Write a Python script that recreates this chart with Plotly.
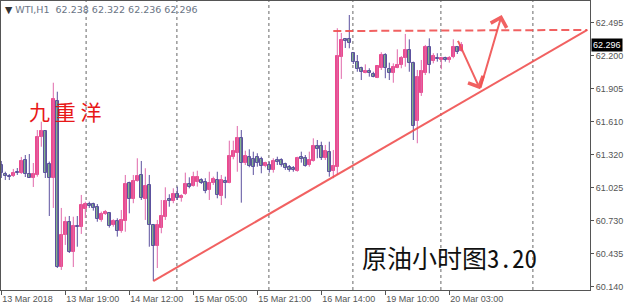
import plotly.graph_objects as go

# ---------------- data (WTI, H1) ----------------
opens = [61.225, 61.142, 61.130, 61.130, 61.165, 61.157, 61.270, 61.142, 61.112, 61.136,
         61.472, 61.528, 61.231, 61.109, 61.799, 60.318, 60.601, 60.719, 60.452, 60.684,
         60.675, 60.830, 60.875, 60.875, 60.851, 60.735, 60.788, 60.794, 60.690, 60.728,
         60.639, 60.728, 61.062, 60.922, 61.082, 61.136, 60.922, 61.047, 60.690, 60.505,
         60.661, 60.764, 60.922, 60.907, 60.964, 60.934, 60.964, 61.056, 61.038, 61.076,
         61.091, 61.076, 61.002, 61.067, 61.091, 60.949, 61.085, 61.067, 61.299, 61.335,
         61.463, 61.246, 61.294, 61.279, 61.294, 61.279, 61.219, 61.225, 61.181, 61.270,
         61.270, 61.234, 61.210, 61.196, 61.174, 61.299, 61.285, 61.225, 61.264, 61.395,
         61.395, 61.285, 61.344, 61.174, 61.210, 62.189, 62.346, 62.349, 62.222, 62.141,
         62.088, 62.049, 62.066, 62.037, 62.004, 62.088, 62.206, 62.079, 62.049, 62.093,
         62.117, 62.177, 62.251, 62.138, 61.620, 61.865, 62.049, 62.275, 62.156, 62.182,
         62.162, 62.177, 62.162, 62.186, 62.275, 62.238]
highs = [61.261, 61.165, 61.145, 61.190, 61.198, 61.297, 61.314, 61.323, 61.243, 61.537,
         61.611, 61.537, 61.255, 61.959, 61.879, 60.842, 60.764, 60.770, 60.764, 60.770,
         60.958, 60.898, 60.898, 60.889, 60.877, 60.809, 60.824, 60.800, 60.741, 60.750,
         60.824, 61.136, 61.076, 61.136, 61.285, 61.261, 61.196, 61.136, 60.699, 60.735,
         60.913, 61.026, 60.964, 61.017, 61.032, 60.964, 61.157, 61.115, 61.165, 61.174,
         61.107, 61.107, 61.165, 61.121, 61.165, 61.136, 61.121, 61.442, 61.442, 61.573,
         61.537, 61.353, 61.365, 61.344, 61.330, 61.299, 61.255, 61.255, 61.285, 61.299,
         61.285, 61.246, 61.225, 61.216, 61.299, 61.344, 61.314, 61.344, 61.463, 61.448,
         61.433, 61.404, 61.433, 61.359, 62.445, 62.403, 62.349, 62.563, 62.230, 62.206,
         62.102, 62.123, 62.088, 62.057, 62.110, 62.231, 62.222, 62.138, 62.132, 62.257,
         62.197, 62.394, 62.346, 62.147, 62.073, 62.162, 62.296, 62.355, 62.222, 62.222,
         62.191, 62.191, 62.197, 62.346, 62.287, 62.322]
lows = [61.109, 61.091, 61.091, 61.118, 61.136, 61.145, 61.118, 61.109, 61.029, 61.121,
        61.388, 61.109, 60.770, 60.842, 60.306, 60.289, 60.512, 60.440, 60.315, 60.496,
        60.610, 60.752, 60.842, 60.818, 60.719, 60.719, 60.779, 60.666, 60.675, 60.586,
        60.621, 60.630, 60.794, 60.884, 61.076, 60.913, 60.735, 60.496, 60.191, 60.306,
        60.616, 60.735, 60.853, 60.884, 60.913, 60.898, 60.958, 61.017, 61.032, 61.032,
        61.056, 60.973, 60.913, 61.047, 60.928, 60.868, 60.928, 61.062, 61.276, 61.165,
        60.889, 61.225, 61.205, 61.136, 61.210, 61.151, 61.205, 61.157, 61.157, 61.225,
        61.210, 61.181, 61.165, 61.165, 61.165, 61.246, 61.210, 61.210, 61.255, 61.285,
        61.270, 61.270, 61.121, 61.107, 61.136, 61.993, 62.269, 62.266, 62.126, 62.057,
        61.983, 62.043, 62.013, 62.007, 62.000, 62.073, 61.999, 61.983, 61.959, 62.088,
        62.088, 62.102, 62.057, 61.448, 61.419, 61.841, 62.028, 62.043, 62.132, 62.147,
        62.079, 62.147, 62.138, 62.177, 62.215, 62.236]
closes = [61.154, 61.130, 61.121, 61.157, 61.151, 61.261, 61.142, 61.112, 61.145, 61.478,
          61.528, 61.157, 61.107, 61.814, 60.318, 60.601, 60.717, 60.452, 60.684, 60.669,
          60.868, 60.875, 60.860, 60.844, 60.741, 60.788, 60.809, 60.681, 60.728, 60.639,
          60.735, 61.056, 60.922, 61.082, 61.127, 60.934, 61.038, 60.690, 60.505, 60.690,
          60.770, 60.907, 60.904, 60.967, 60.934, 60.951, 61.056, 61.032, 61.115, 61.121,
          61.067, 60.996, 61.067, 61.100, 60.958, 61.091, 61.067, 61.308, 61.353, 61.463,
          61.246, 61.305, 61.216, 61.210, 61.246, 61.216, 61.240, 61.181, 61.264, 61.255,
          61.225, 61.196, 61.181, 61.181, 61.285, 61.281, 61.219, 61.270, 61.395, 61.371,
          61.285, 61.350, 61.165, 61.216, 62.197, 62.340, 62.334, 62.311, 62.147, 62.082,
          62.057, 62.066, 62.043, 62.013, 62.108, 62.206, 62.088, 62.043, 62.102, 62.117,
          62.177, 62.251, 62.132, 61.573, 62.013, 62.064, 62.280, 62.117, 62.197, 62.171,
          62.177, 62.162, 62.177, 62.275, 62.236, 62.296]

x_tick_bars = [0, 16, 32, 48, 64, 80, 96, 112]
x_tick_labels = ["13 Mar 2018", "13 Mar 19:00", "14 Mar 12:00", "15 Mar 05:00",
                 "15 Mar 21:00", "16 Mar 14:00", "19 Mar 10:00", "20 Mar 03:00"]
y_tick_vals = [62.495, 62.200, 61.905, 61.610, 61.320, 61.025, 60.730, 60.435, 60.140]
day_separators = [21.2, 43.9, 66.9, 87.9, 109.9, 132.9]

# drawn objects (bar index, price)
trend_x = [38, 146.5]
trend_y = [60.19, 62.43]
resist_x = [83, 146.5]
resist_y = [62.42, 62.43]
arrow_x = [114, 119.7, 125.1]
arrow_y = [62.346, 61.900, 62.563]

symbol_title = "WTI,H1"
last_price = closes[-1]

# ---------------- styles ----------------
BULL_BODY = "#EA4A8E"
BULL_WICK = "#E068AA"
BEAR_BODY = "#8FCF88"
BEAR_LINE = "#5C519E"
RED = "rgba(240,80,80,0.9)"
AXIS = "#555555"
FONT = "Liberation Sans, Arial, sans-serif"

n = len(opens)
idx = list(range(n))
bull = [closes[i] >= opens[i] for i in idx]
min_body = 0.009

fig = go.Figure()

# wicks
for is_bull, col in ((True, BULL_WICK), (False, BEAR_LINE)):
    wx, wy = [], []
    for i in idx:
        if bull[i] == is_bull:
            wx += [i, i, None]
            wy += [lows[i], highs[i], None]
    fig.add_trace(go.Scatter(x=wx, y=wy, mode="lines",
                             line=dict(color=col, width=1),
                             hoverinfo="skip", showlegend=False))

# bodies
for is_bull, fill, edge in ((True, BULL_BODY, BULL_BODY), (False, BEAR_BODY, BEAR_LINE)):
    bx = [i for i in idx if bull[i] == is_bull]
    base = [min(opens[i], closes[i]) for i in bx]
    height = [max(abs(closes[i] - opens[i]), min_body) for i in bx]
    fig.add_trace(go.Bar(x=bx, y=height, base=base, width=0.62,
                         marker=dict(color=fill, line=dict(color=edge, width=1)),
                         hoverinfo="skip", showlegend=False))

shapes = []
for g in day_separators:
    shapes.append(dict(type="line", xref="x", yref="paper", x0=g, x1=g, y0=0, y1=1,
                       line=dict(color="#666666", width=1, dash="3px,3px"), layer="below"))
shapes.append(dict(type="line", xref="x", yref="y", x0=trend_x[0], x1=trend_x[1],
                   y0=trend_y[0], y1=trend_y[1], line=dict(color=RED, width=2)))
shapes.append(dict(type="line", xref="x", yref="y", x0=resist_x[0], x1=resist_x[1],
                   y0=resist_y[0], y1=resist_y[1], line=dict(color=RED, width=2, dash="8px,4px")))

annotations = []
for k in range(len(arrow_x) - 1):
    annotations.append(dict(x=arrow_x[k + 1], y=arrow_y[k + 1], ax=arrow_x[k], ay=arrow_y[k],
                            xref="x", yref="y", axref="x", ayref="y", text="",
                            showarrow=True, arrowhead=4, arrowsize=1.6, arrowwidth=2,
                            arrowcolor=RED, standoff=0, startstandoff=0))

annotations.append(dict(xref="paper", yref="paper", x=0, y=1, xanchor="left", yanchor="top",
                        xshift=2, yshift=-1, showarrow=False,
                        text="<span style='color:#333333'>\u25BC</span>\u00a0" + symbol_title +
                             "\u00a0\u00a0" + "\u00a0".join(f"{v:.3f}" for v in
                                                           (opens[-1], highs[-1], lows[-1], closes[-1])),
                        font=dict(family="DejaVu Sans", size=9.5, color="#6a7585")))
annotations.append(dict(xref="x", yref="y", x=6.4, y=61.71, xanchor="left", yanchor="middle",
                        showarrow=False, text="九\u00a0重\u00a0洋",
                        font=dict(family="Noto Sans CJK SC", size=21, color="#E81818")))
annotations.append(dict(xref="x", yref="y", x=89.6, y=60.40, xanchor="left", yanchor="middle",
                        showarrow=False, text="原油小时图3.20",
                        font=dict(family="Noto Sans Mono CJK SC, Noto Sans CJK SC", size=25,
                                  color="#111111")))
annotations.append(dict(xref="paper", yref="y", x=1, y=last_price, xanchor="left",
                        yanchor="middle", xshift=1, showarrow=False, text=f"{last_price:.3f}",
                        bgcolor="#000000", borderpad=1,
                        font=dict(family=FONT, size=9, color="#ffffff")))

fig.update_layout(
    width=624, height=305,
    margin=dict(l=1, r=34, t=1, b=15),
    paper_bgcolor="white", plot_bgcolor="white",
    barmode="overlay", bargap=0,
    showlegend=False,
    shapes=shapes, annotations=annotations,
    template="none",
)
fig.update_xaxes(range=[-0.075, 147.175], tickvals=x_tick_bars, ticktext=x_tick_labels,
                 ticks="outside", ticklen=4, tickcolor=AXIS, ticklabelposition="outside right",
                 tickfont=dict(family=FONT, size=9, color=AXIS),
                 showline=True, linecolor=AXIS, linewidth=1, mirror=True,
                 showgrid=False, zeroline=False, automargin=False, fixedrange=True)
fig.update_yaxes(range=[60.110, 62.688], side="right", tickvals=y_tick_vals,
                 ticktext=[f"{v:.3f}" for v in y_tick_vals],
                 ticks="outside", ticklen=3, tickcolor=AXIS,
                 tickfont=dict(family=FONT, size=9, color=AXIS),
                 showline=True, linecolor=AXIS, linewidth=1, mirror=True,
                 showgrid=False, zeroline=False, automargin=False, fixedrange=True)

fig.write_html("out.html")
